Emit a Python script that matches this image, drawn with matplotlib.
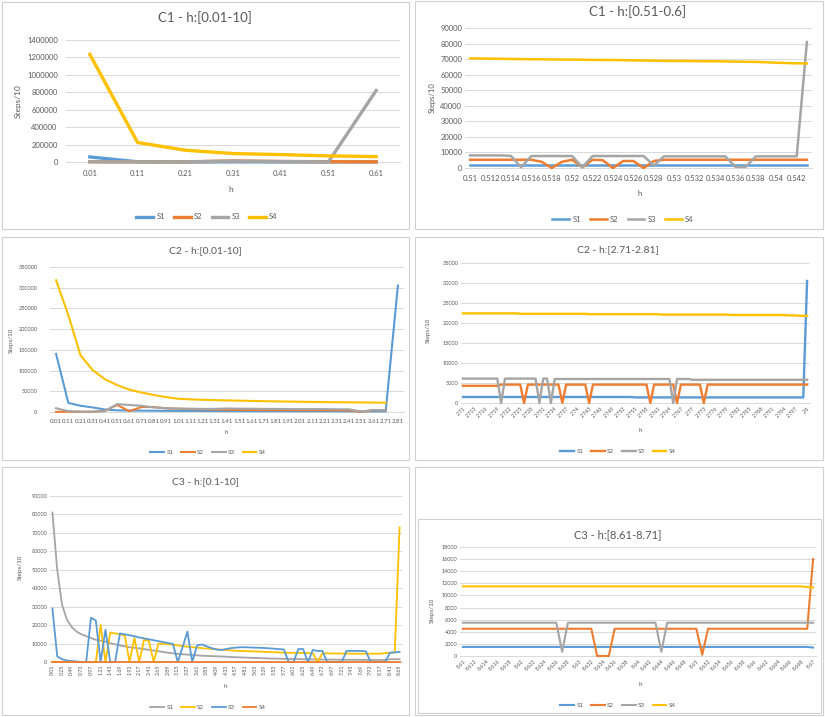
import numpy as np
import matplotlib
matplotlib.use("Agg")
import matplotlib.pyplot as plt
from matplotlib.patches import Rectangle
from matplotlib.lines import Line2D

W, H = 825, 717
plt.rcParams['font.family'] = ['Lato', 'DejaVu Sans']

BLUE = '#5B9BD5'; ORANGE = '#ED7D31'; GRAY = '#A5A5A5'; YELLOW = '#FFC000'
TXT = '#595959'; GRID = '#D9D9D9'
NAMES = ['S1', 'S2', 'S3', 'S4']

# ---------------- C1 - h:[0.01-10] ----------------
c1a_h = ["0.01", "0.11", "0.21", "0.31", "0.41", "0.51", "0.61"]
c1a_s1 = [58000, 2000, 1000, 1000, 1000, 1000, 1000]
c1a_s2 = [3000, 2000, 2000, 12000, 6000, 3000, 2000]
c1a_s3 = [2000, 1000, 1000, 10000, 5000, 1000, 820000]
c1a_s4 = [1235000, 224000, 135000, 97000, 85000, 70000, 62000]

# ---------------- C1 - h:[0.51-0.6] ----------------
c1b_h = np.round(np.arange(510, 544) / 1000, 3)
c1b_s1 = [2200, 2200, 2200, 2200, 2200, 2200, 2200, 2200, 2200, 2200,
          2200, 2200, 2200, 2200, 2200, 2200, 2200, 2200, 2200, 2200,
          2200, 2200, 2200, 2200, 2200, 2200, 2200, 2200, 2200, 2200,
          2200, 2200, 2200, 2200]
c1b_s2 = [5300, 5300, 5300, 5300, 5300, 5300, 5300, 4000, 0, 4000,
          5300, 500, 5300, 5000, 0, 4500, 4500, 0, 4500, 5300,
          5300, 5300, 5300, 5300, 5300, 5300, 5300, 5300, 5300, 5300,
          5300, 5300, 5300, 5300]
c1b_s3 = [8100, 8100, 8100, 8100, 7800, 500, 7700, 7700, 7700, 7700,
          7700, 500, 7700, 7700, 7700, 7700, 7700, 7700, 1600, 7500,
          7500, 7500, 7500, 7500, 7500, 7500, 700, 700, 7500, 7500,
          7500, 7500, 7500, 81000]
c1b_s4 = [70500, 70400, 70300, 70200, 70100, 70000, 69900, 69900, 69800, 69700,
          69700, 69600, 69500, 69500, 69400, 69300, 69200, 69100, 69000, 68900,
          68800, 68800, 68700, 68600, 68600, 68500, 68400, 68300, 68200, 68000,
          67700, 67500, 67300, 67200]

# ---------------- C2 - h:[0.01-10] ----------------
c2a_h = np.round(np.arange(1, 282, 10) / 100, 2)
nan = np.nan
c2a_s1 = [140000, 22000, 15000, 11000, 6000, 4000, 3500, 3200, 3000, 2800,
          2700, 2600, 2500, 2400, 2300, 2200, 2100, 2000, 2000, 1900,
          1900, 1800, 1800, 1700, 1700, 1600, 1600, 1500, 305000]
c2a_s2 = [500, 500, 500, 500, 3000, 17000, 2000, 12000, 12000, 9000,
          8000, 7000, 6500, 6000, 5500, 5000, 5000, 4800, 4600, 4500,
          4400, 4300, 4200, 4100, 4000, 0, 4500, 4500, nan]
c2a_s3 = [9000, 2000, 1000, 1000, 2000, 19000, 17000, 15000, 11000, 9000,
          8000, 8000, 7500, 7500, 8500, 8000, 8000, 7500, 7500, 7000,
          7000, 7000, 7000, 6500, 6500, 1000, 5000, 4000, nan]
c2a_s4 = [318000, 234000, 137000, 101000, 79000, 65000, 54000, 47000, 41000, 36000,
          32000, 30500, 29500, 28700, 28000, 27300, 26700, 26100, 25600, 25100,
          24700, 24300, 23900, 23600, 23300, 23000, 22800, 22500, nan]

# ---------------- C2 - h:[2.71-2.81] ----------------
c2b_h = np.round(np.arange(2710, 2801) / 1000, 3)
c2b_s1 = [1500, 1500, 1500, 1500, 1500, 1500, 1500, 1500, 1500, 1500,
          1500, 1500, 1500, 1500, 1500, 1500, 1500, 1500, 1500, 1500,
          1500, 1500, 1500, 1500, 1500, 1500, 1500, 1500, 1500, 1500,
          1500, 1500, 1500, 1500, 1500, 1500, 1500, 1500, 1500, 1500,
          1500, 1500, 1500, 1500, 1500, 1400, 1400, 1400, 1400, 1400,
          1400, 1400, 1400, 1400, 1400, 1400, 1400, 1400, 1400, 1400,
          1400, 1400, 1400, 1400, 1400, 1400, 1400, 1400, 1400, 1400,
          1400, 1400, 1400, 1400, 1400, 1400, 1400, 1400, 1400, 1400,
          1400, 1400, 1400, 1400, 1400, 1400, 1400, 1400, 1400, 1400,
          30500]
c2b_s2 = [4300, 4300, 4300, 4300, 4300, 4300, 4300, 4300, 4300, 4300,
          4600, 4600, 4600, 4600, 4600, 4600, 0, 4600, 4600, 4600,
          4600, 4600, 4600, 4600, 4600, 4600, 0, 4600, 4600, 4600,
          4600, 4600, 4600, 0, 4600, 4600, 4600, 4600, 4600, 4600,
          4600, 4600, 4600, 4600, 4600, 4600, 4600, 4600, 4600, 0,
          4600, 4600, 4600, 4600, 4600, 4600, 0, 4600, 4600, 4600,
          4600, 4600, 4600, 0, 4600, 4600, 4600, 4600, 4600, 4600,
          4600, 4600, 4600, 4600, 4600, 4600, 4600, 4600, 4600, 4600,
          4600, 4600, 4600, 4600, 4600, 4600, 4600, 4600, 4600, 4600,
          4600]
c2b_s3 = [6100, 6100, 6100, 6100, 6100, 6100, 6100, 6100, 6100, 6100,
          0, 6100, 6100, 6100, 6100, 6100, 6100, 6100, 6100, 6100,
          0, 6100, 6100, 0, 6000, 6000, 6000, 6000, 6000, 6000,
          6000, 6000, 6000, 6000, 6000, 6000, 6000, 6000, 6000, 6000,
          6000, 6000, 6000, 6000, 6000, 6000, 6000, 6000, 6000, 6000,
          6000, 6000, 6000, 6000, 6000, 0, 6000, 6000, 6000, 6000,
          5800, 5800, 5800, 5800, 5800, 5800, 5800, 5800, 5800, 5800,
          5800, 5800, 5800, 5800, 5800, 5800, 5800, 5800, 5800, 5800,
          5800, 5800, 5800, 5800, 5800, 5800, 5800, 5800, 5800, 5800,
          5800]
c2b_s4 = [22400, 22400, 22400, 22400, 22400, 22400, 22400, 22400, 22400, 22400,
          22400, 22400, 22400, 22400, 22400, 22300, 22300, 22300, 22300, 22300,
          22300, 22300, 22300, 22300, 22300, 22300, 22300, 22300, 22300, 22300,
          22300, 22300, 22300, 22200, 22200, 22200, 22200, 22200, 22200, 22200,
          22200, 22200, 22200, 22200, 22200, 22200, 22200, 22200, 22200, 22200,
          22200, 22200, 22100, 22100, 22100, 22100, 22100, 22100, 22100, 22100,
          22100, 22100, 22100, 22100, 22100, 22100, 22100, 22100, 22100, 22100,
          22000, 22000, 22000, 22000, 22000, 22000, 22000, 22000, 22000, 22000,
          22000, 22000, 22000, 22000, 22000, 21900, 21900, 21900, 21800, 21800,
          21800]

# ---------------- C3 - h:[0.1-10] ----------------
c3a_h = np.round(np.arange(1, 866, 12) / 100, 2)
c3a_s1 = [81000, 50000, 31000, 23000, 19000, 16500, 15000, 14000, 13000, 12000,
          11500, 11000, 10200, 9600, 9000, 8500, 8000, 7700, 7400, 7000,
          6600, 6200, 5800, 5400, 5000, 4700, 4400, 4200, 4000, 3800,
          3600, 3400, 3300, 3200, 3100, 3000, 2900, 2700, 2600, 2500,
          2400, 2300, 2200, 2100, 2000, 1900, 1850, 1800, 1700, 1650,
          1600, 1550, 1500, 1450, 1400, 1400, 1350, 1300, 1300, 1250,
          1250, 1200, 1200, 1200, 1150, 1150, 1100, 1100, 1100, 1100,
          1500, 1500, 1500]
c3a_s2 = [0, 0, 0, 0, 0, 0, 0, 0, 0, 0,
          20000, 0, 16000, 15500, 15000, 14500, 0, 13000, 0, 12000,
          11500, 0, 10000, 9800, 9600, 9400, 9000, 8600, 8300, 8000,
          7800, 7500, 7300, 7100, 6900, 6700, 6500, 6300, 6100, 6000,
          5900, 5800, 5700, 5600, 5500, 5400, 5300, 5200, 5100, 5000,
          5000, 4900, 4900, 4800, 4800, 0, 4700, 4700, 4600, 4600,
          4600, 4600, 4500, 4500, 4500, 4500, 4500, 4500, 4500, 4800,
          5000, 5200, 73000]
c3a_s3 = [29000, 3000, 1500, 800, 500, 300, 0, 0, 24000, 22500,
          0, 17500, 0, 0, 15500, 15000, 14500, 14000, 13300, 12800,
          12300, 11800, 11300, 10800, 10300, 9800, 0, 8000, 16500, 0,
          9000, 9500, 8500, 7500, 6800, 6500, 7000, 7500, 7800, 8000,
          8000, 7900, 7800, 7700, 7600, 7400, 7200, 7000, 6800, 0,
          0, 7000, 7000, 0, 6500, 6000, 6000, 0, 0, 0,
          0, 6000, 6000, 6000, 6000, 5800, 0, 0, 0, 0,
          5000, 5200, 5500]
c3a_s4 = [0, 0, 0, 0, 0, 0, 0, 0, 0, 0,
          0, 0, 0, 0, 0, 0, 0, 0, 0, 0,
          0, 0, 0, 0, 0, 0, 0, 0, 0, 0,
          0, 0, 0, 0, 0, 0, 0, 0, 0, 0,
          0, 0, 0, 0, 0, 0, 0, 0, 0, 0,
          0, 0, 0, 0, 0, 0, 0, 0, 0, 0,
          0, 0, 0, 0, 0, 0, 0, 0, 0, 0,
          0, 0, 0]

# ---------------- C3 - h:[8.61-8.71] ----------------
c3b_h = np.round(np.arange(8610, 8671) / 1000, 3)
c3b_s1 = [1500, 1500, 1500, 1500, 1500, 1500, 1500, 1500, 1500, 1500,
          1500, 1500, 1500, 1500, 1500, 1500, 1500, 1500, 1500, 1500,
          1500, 1500, 1500, 1500, 1500, 1500, 1500, 1500, 1500, 1500,
          1500, 1500, 1500, 1500, 1500, 1500, 1500, 1500, 1500, 1500,
          1500, 1500, 1500, 1500, 1500, 1500, 1500, 1500, 1500, 1500,
          1500, 1500, 1500, 1500, 1500, 1500, 1500, 1500, 1500, 1500,
          1400]
c3b_s2 = [4500, 4500, 4500, 4500, 4500, 4500, 4500, 4500, 4500, 4500,
          4500, 4500, 4500, 4500, 4500, 4500, 4500, 4500, 4500, 4500,
          4500, 4500, 4500, 0, 0, 0, 4500, 4500, 4500, 4500,
          4500, 4500, 4500, 4500, 4500, 4500, 4500, 4500, 4500, 4500,
          4500, 200, 4500, 4500, 4500, 4500, 4500, 4500, 4500, 4500,
          4500, 4500, 4500, 4500, 4500, 4500, 4500, 4500, 4500, 4500,
          16000]
c3b_s3 = [5500, 5500, 5500, 5500, 5500, 5500, 5500, 5500, 5500, 5500,
          5500, 5500, 5500, 5500, 5500, 5500, 5500, 700, 5500, 5500,
          5500, 5500, 5500, 5500, 5500, 5500, 5500, 5500, 5500, 5500,
          5500, 5500, 5500, 5500, 700, 5500, 5500, 5500, 5500, 5500,
          5500, 5500, 5500, 5500, 5500, 5500, 5500, 5500, 5500, 5500,
          5500, 5500, 5500, 5500, 5500, 5500, 5500, 5500, 5500, 5500,
          5500]
c3b_s4 = [11500, 11500, 11500, 11500, 11500, 11500, 11500, 11500, 11500, 11500,
          11500, 11500, 11500, 11500, 11500, 11500, 11500, 11500, 11500, 11500,
          11500, 11500, 11500, 11500, 11500, 11500, 11500, 11500, 11500, 11500,
          11500, 11500, 11500, 11500, 11500, 11500, 11500, 11500, 11500, 11500,
          11500, 11500, 11500, 11500, 11500, 11500, 11500, 11500, 11500, 11500,
          11500, 11500, 11500, 11500, 11500, 11500, 11500, 11500, 11500, 11400,
          11300]

fig = plt.figure(figsize=(W / 100, H / 100), dpi=100)


def box(x0, y0, x1, y1, color='#D0D0D0', lw=0.8):
    fig.add_artist(Rectangle((x0 / W, 1 - y1 / H), (x1 - x0) / W, (y1 - y0) / H,
                             transform=fig.transFigure, fill=False, ec=color, lw=lw))


def ftext(x, y, s, size, **kw):
    fig.text(x / W, 1 - y / H, s, fontsize=size, color=TXT, ha='center', va='center', **kw)


def fmt(v):
    return v if isinstance(v, str) else f"{v:g}"


def panel(ax_px, cats, series, colors, yticks, every, rot, xsize, ysize, lw,
          title, title_px, title_size, ylab_px, xlab_px, lab_size,
          leg_px, leg_size, xpad, ypad, hlen=2.2, colsp=1.2):
    x0, y0, x1, y1 = ax_px
    ax = fig.add_axes([x0 / W, 1 - y1 / H, (x1 - x0) / W, (y1 - y0) / H])
    n = len(cats)
    x = np.arange(n)
    for s, c in zip(series, colors):
        ax.plot(x, s, color=c, lw=lw, solid_joinstyle='round', clip_on=False, zorder=3)
    ax.set_xlim(-0.5, n - 0.5)
    ax.set_ylim(yticks[0], yticks[-1])
    ax.set_yticks(yticks)
    ax.set_yticklabels([str(v) for v in yticks], fontsize=ysize, color=TXT)
    idx = x[::every]
    ax.set_xticks(idx)
    labs = [fmt(cats[i]) for i in idx]
    if rot == 0:
        ax.set_xticklabels(labs, fontsize=xsize, color=TXT)
    elif rot == 90:
        ax.set_xticklabels(labs, fontsize=xsize, color=TXT, rotation=90, ha='center', va='top')
    else:
        ax.set_xticklabels(labs, fontsize=xsize, color=TXT, rotation=45, ha='right',
                           va='top', rotation_mode='anchor')
    ax.tick_params(axis='x', length=0, pad=xpad)
    ax.tick_params(axis='y', length=0, pad=ypad)
    ax.grid(axis='y', color=GRID, lw=0.7)
    ax.set_axisbelow(True)
    for sp in ['top', 'right', 'left']:
        ax.spines[sp].set_visible(False)
    ax.spines['bottom'].set_color(GRID)
    ax.spines['bottom'].set_linewidth(0.7)
    ax.patch.set_alpha(0)
    ftext(*title_px, title, title_size)
    ftext(*ylab_px, 'Steps/10', lab_size, rotation=90)
    ftext(*xlab_px, 'h', lab_size)
    handles = [Line2D([], [], color=c, lw=lw) for c in colors]
    fig.legend(handles, NAMES, loc='center', bbox_to_anchor=(leg_px[0] / W, 1 - leg_px[1] / H),
               ncol=4, frameon=False, fontsize=leg_size, handlelength=hlen,
               columnspacing=colsp, handletextpad=0.4, labelcolor=TXT)
    return ax


# panel borders
box(2, 2, 409, 229)
box(415, 1, 823, 229)
box(2, 237, 409, 460)
box(415, 237, 823, 460)
box(2, 467, 409, 715)
box(415, 467, 823, 715)
box(418, 519, 821, 713)

cols = [BLUE, ORANGE, GRAY, YELLOW]

panel((66, 40, 400, 162), c1a_h, [c1a_s1, c1a_s2, c1a_s3, c1a_s4], cols,
      list(range(0, 1400001, 200000)), 1, 0, 5.5, 5.5, 2.4,
      'C1 - h:[0.01-10]', (205, 18), 9.5, (18, 101), (231, 190), 6,
      (207, 217), 5.5, 6, 6)

panel((465, 28, 812, 168), c1b_h, [c1b_s1, c1b_s2, c1b_s3, c1b_s4], cols,
      list(range(0, 90001, 10000)), 2, 0, 5.5, 5.5, 1.8,
      'C1 - h:[0.51-0.6]', (638, 12), 9.5, (432, 98), (640, 193), 5.5,
      (623, 219), 5.5, 5, 2)

panel((50, 267, 404, 412), c2a_h, [c2a_s1, c2a_s2, c2a_s3, c2a_s4], cols,
      list(range(0, 350001, 50000)), 1, 0, 4.4, 4, 1.5,
      'C2 - h:[0.01-10]', (205, 251), 7.5, (11, 340), (226, 432), 4.5,
      (208, 452), 4.5, 5, 9)

panel((461, 263, 809, 403), c2b_h, [c2b_s1, c2b_s2, c2b_s3, c2b_s4], cols,
      list(range(0, 35001, 5000)), 3, 45, 3.8, 4, 1.7,
      'C2 - h:[2.71-2.81]', (618, 250), 7.5, (428, 330), (640, 430), 4.5,
      (618, 451), 4.5, 2, 2)

panel((50, 496, 402, 662), c3a_h, [c3a_s1, c3a_s2, c3a_s3, c3a_s4],
      [GRAY, YELLOW, BLUE, ORANGE],
      list(range(0, 90001, 10000)), 2, 90, 3.8, 4, 1.3,
      'C3 - h:[0.1-10]', (205, 482), 7.5, (20, 567), (225, 687), 4.5,
      (208, 707), 4.5, 2, 2)

panel((460, 547, 816, 656), c3b_h, [c3b_s1, c3b_s2, c3b_s3, c3b_s4], cols,
      list(range(0, 18001, 2000)), 2, 45, 3.8, 4, 1.5,
      'C3 - h:[8.61-8.71]', (618, 535), 8, (432, 610), (640, 685), 4.5,
      (618, 705), 4.5, 2, 2)

fig.savefig('out.png', dpi=100, facecolor='white')
